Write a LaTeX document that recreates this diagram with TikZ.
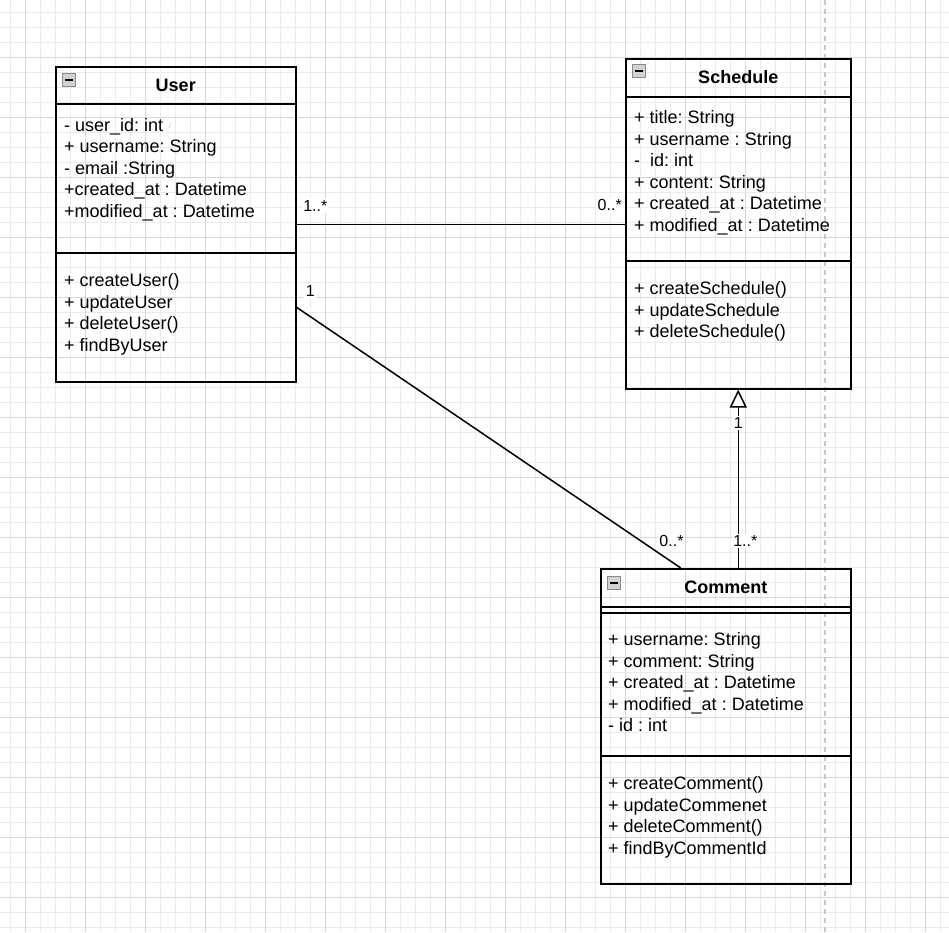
\documentclass[tikz,border=0pt]{standalone}
\usepackage{fontspec}
\setmainfont{Liberation Sans}
\usetikzlibrary{arrows.meta, positioning, calc}
\frenchspacing
\definecolor{gridminor}{HTML}{EBEBEB}
\definecolor{gridmajor}{HTML}{D6D6D6}
\definecolor{guide}{HTML}{C8C8C8}
\definecolor{iconfill}{HTML}{D2D2D2}
\definecolor{iconedge}{HTML}{8A8A8A}
\definecolor{marker}{HTML}{9DC3E6}

\begin{document}
\begin{tikzpicture}[
  x=1pt, y=-1pt,
  classbox/.style={draw=black, line width=1.5pt, anchor=north west, inner sep=0pt},
  classname/.style={font=\fontsize{18}{21.5}\selectfont\bfseries, inner sep=0pt},
  member/.style={font=\fontsize{18}{21.5}\selectfont, anchor=base west, inner sep=0pt},
  mult/.style={font=\fontsize{16}{18}\selectfont, fill=white, inner sep=1.5pt},
  foldicon/.style={
    anchor=north west, minimum size=13pt, inner sep=0pt,
    draw=iconedge, fill=iconfill, line width=0.8pt,
    path picture={\draw[line width=1.6pt, black]
      ([xshift=2.5pt]path picture bounding box.west) --
      ([xshift=-2.5pt]path picture bounding box.east);}
  },
  assoc/.style={line width=1.5pt},
  inherit/.style={line width=1.5pt, -{Triangle[length=18pt, width=17pt, fill=white]}},
]

\useasboundingbox (0,0) rectangle (949,932);

% Background grid
\fill[white] (0,0) rectangle (949,932);
\foreach \gx in {10,25,...,940}
  \draw[gridminor, line width=1pt] (\gx,0) -- (\gx,932);
\foreach \gy in {12,27,...,927}
  \draw[gridminor, line width=1pt] (0,\gy) -- (949,\gy);
\foreach \gx in {25,85,...,925}
  \draw[gridmajor, line width=1pt] (\gx,0) -- (\gx,932);
\foreach \gy in {57,117,...,897}
  \draw[gridmajor, line width=1pt] (0,\gy) -- (949,\gy);

% Page guide
\draw[guide, line width=1.5pt, dash pattern=on 5pt off 4pt] (825,0) -- (825,932);

% =============================================
% Class: User
% =============================================
\node[classbox, minimum width=240pt, minimum height=315pt] (user) at (55,66) {};
\node[foldicon] (user-fold) at ([shift={(7pt,-7pt)}]user.north west) {};
\node[classname] (user-name) at ([yshift=-19pt]user.north) {User};
\draw[assoc] ([yshift=-38pt]user.north west) -- ([yshift=-38pt]user.north east);
\draw[assoc] ([yshift=-187pt]user.north west) -- ([yshift=-187pt]user.north east);

\foreach \m [count=\i from 0] in {- user\_id: int, + username: String, - email :String,
    +created\_at : Datetime, +modified\_at : Datetime}
  \node[member] (user-a\i) at (64,{131+21.5*\i}) {\m};
\node[font=\fontsize{7}{7}\selectfont\itshape, text=marker, inner sep=0pt] (user-mark) at (170,126) {/};

\foreach \m [count=\i from 0] in {+ createUser(), + updateUser, + deleteUser(), + findByUser}
  \node[member] (user-o\i) at (64,{286.5+21.5*\i}) {\m};

% =============================================
% Class: Schedule
% =============================================
\node[classbox, minimum width=225pt, minimum height=330pt] (schedule) at (625,58) {};
\node[foldicon] (schedule-fold) at ([shift={(7pt,-6pt)}]schedule.north west) {};
\node[classname] (schedule-name) at ([yshift=-19.5pt]schedule.north) {Schedule};
\draw[assoc] ([yshift=-39pt]schedule.north west) -- ([yshift=-39pt]schedule.north east);
\draw[assoc] ([yshift=-203pt]schedule.north west) -- ([yshift=-203pt]schedule.north east);

\foreach \m [count=\i from 0] in {+ title: String, + username : String, -\ \ id: int,
    + content: String, + created\_at : Datetime, + modified\_at : Datetime}
  \node[member] (schedule-a\i) at (634,{123.5+21.5*\i}) {\m};

\foreach \m [count=\i from 0] in {+ createSchedule(), + updateSchedule, + deleteSchedule()}
  \node[member] (schedule-o\i) at (634,{294.5+21.5*\i}) {\m};

% =============================================
% Class: Comment
% =============================================
\node[classbox, minimum width=250pt, minimum height=315pt] (comment) at (600,568) {};
\node[foldicon] (comment-fold) at ([shift={(7pt,-8pt)}]comment.north west) {};
\node[classname] (comment-name) at ([yshift=-19.5pt]comment.north) {Comment};
\draw[assoc] ([yshift=-39pt]comment.north west) -- ([yshift=-39pt]comment.north east);
\draw[assoc] ([yshift=-45pt]comment.north west) -- ([yshift=-45pt]comment.north east);
\draw[assoc] ([yshift=-188pt]comment.north west) -- ([yshift=-188pt]comment.north east);

\foreach \m [count=\i from 0] in {+ username: String, + comment: String,
    + created\_at : Datetime, + modified\_at : Datetime, - id : int}
  \node[member] (comment-a\i) at (608,{645.5+21.6*\i}) {\m};

\foreach \m [count=\i from 0] in {+ createComment(), + updateCommenet, + deleteComment(),
    + findByCommentId}
  \node[member] (comment-o\i) at (608,{789.5+21.6*\i}) {\m};

% =============================================
% Relations
% =============================================
\draw[assoc] (user.east) -- (user.east -| schedule.west)
  node[mult, pos=0, anchor=south west, xshift=4.5pt, yshift=11pt] (us-from) {1..*}
  node[mult, pos=1, anchor=south east, xshift=-1pt, yshift=11pt] (us-to) {0..*};

\draw[assoc] ([yshift=-83pt]user.east) -- ([xshift=-45pt]comment.north)
  node[mult, pos=0, anchor=south west, xshift=7pt, yshift=9pt] (uc-from) {1}
  node[mult, pos=1, anchor=south east, xshift=5pt, yshift=19pt] (uc-to) {0..*};

\draw[inherit] (schedule.south |- comment.north) -- (schedule.south)
  node[mult, pos=0, xshift=7pt, yshift=27pt] (cs-from) {1..*}
  node[mult, pos=1, yshift=-33pt] (cs-to) {1};

\end{tikzpicture}
\end{document}
